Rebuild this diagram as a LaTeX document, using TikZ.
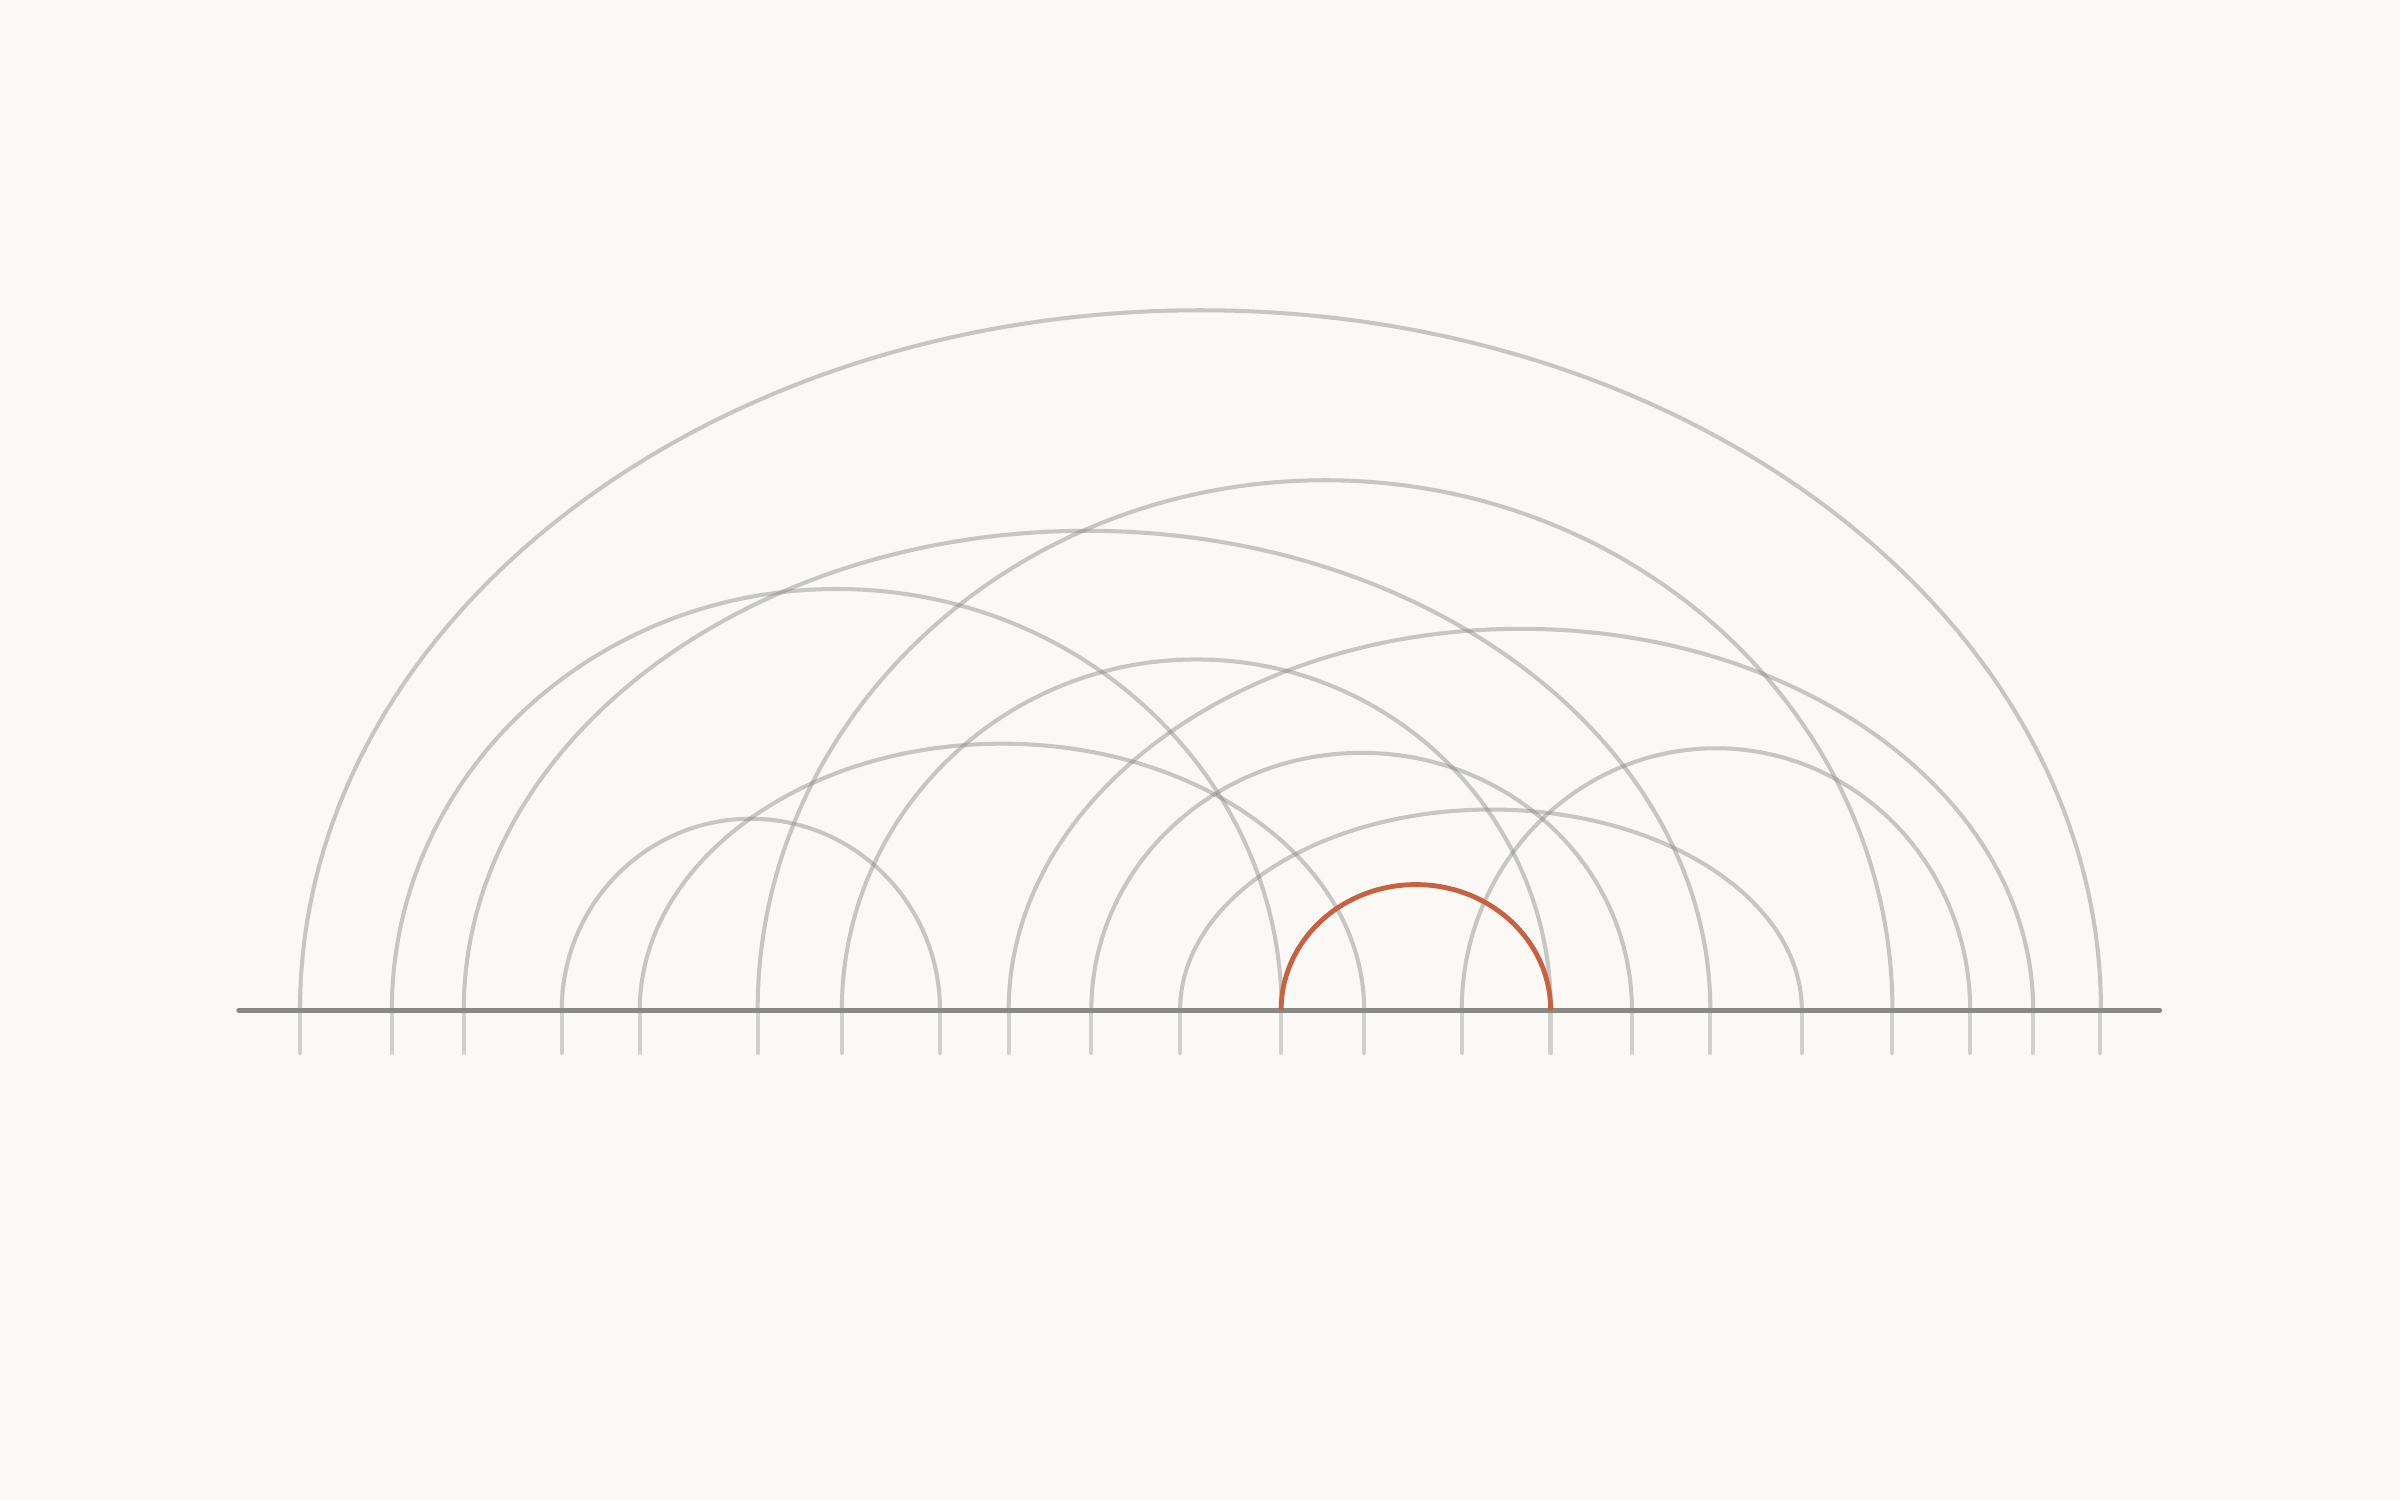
\documentclass[tikz,border=0pt]{standalone}
\definecolor{bgc}{HTML}{FAF9F5}
\definecolor{axisc}{HTML}{888885}
\definecolor{redc}{HTML}{C8613F}
\tikzset{
  arcline/.style={draw=axisc, draw opacity=0.45, line width=0.75pt},
  tickline/.style={draw=axisc, draw opacity=0.36, line width=0.75pt, line cap=round},
  axisline/.style={draw=axisc, line width=0.9pt, line cap=round},
  hiline/.style={draw=redc, line width=0.9pt}
}
\begin{document}
\begin{tikzpicture}[x=0.01cm,y=0.01cm]
\fill[bgc] (0,0) rectangle (1568,980);
\useasboundingbox (0,0) rectangle (1568,980);
% ticks
\foreach \t in {196,256,303,367,418,495,550,614,659,713,771,837,891,955,1013,1066,1117,1177,1236,1287,1328,1372}
  \draw[tickline] (\t,320) -- (\t,292);
% arcs
\foreach \a/\b/\h in {196/1372/457, 256/837/275, 303/1117/313, 367/614/125, 418/891/174, 495/1236/346, 550/1013/229, 659/1328/249, 713/1066/168, 771/1177/131, 955/1287/171}
  \draw[arcline] (\a,320) arc[start angle=180, end angle=0, x radius={(\b-\a)*0.05mm}, y radius={\h*0.1mm}];
% axis
\coordinate (axl) at (156,320);
\coordinate (axr) at (1411,320);
\draw[axisline] (axl) -- (axr);
% highlighted arc
\coordinate (ra) at (837,320);
\draw[hiline] (ra) arc[start angle=180, end angle=0, x radius=0.88cm, y radius=0.82cm];
\end{tikzpicture}
\end{document}
